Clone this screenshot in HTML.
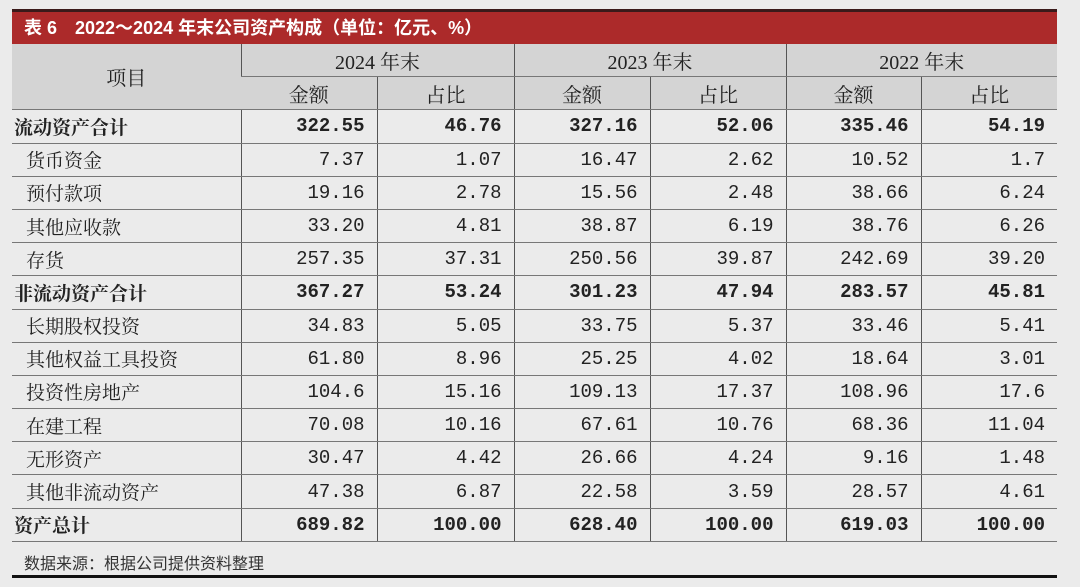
<!DOCTYPE html>
<html><head><meta charset="utf-8"><style>
body{margin:0;width:1080px;height:587px;background:#ebebeb;position:relative;overflow:hidden;font-family:"Liberation Serif","Noto Serif CJK SC",serif;color:#222}
.tb{position:absolute;left:12px;top:9px;width:1045px;height:3px;background:#3a1a1a}
.tt{position:absolute;left:12px;top:12px;width:1045px;height:32px;background:#ac2a2a;color:#fff;font-family:"Liberation Sans","Noto Sans CJK SC",sans-serif;font-size:18px;line-height:32px;text-indent:12px;font-weight:bold}
table{position:absolute;left:12px;top:44px;border-collapse:collapse;table-layout:fixed;width:1045px}
td{height:32.2px;padding:0;border-bottom:1.5px solid #777;font-size:19px;text-align:right;padding-right:12px;font-family:"Liberation Mono","Noto Serif CJK SC",monospace;white-space:nowrap}
td+td{border-left:1.5px solid #555}
td.l{text-align:left;font-family:"Noto Serif CJK SC",serif;padding-left:14px}
tr.b td{font-weight:600}
tr.b td.l{padding-left:2px;font-weight:bold}
.h td{background:#d4d4d4;text-align:center;padding:0;font-family:"Liberation Serif","Noto Serif CJK SC",serif;font-size:20px}
.src{position:absolute;left:24px;top:550px;font-size:16px;font-family:"Noto Sans CJK SC",sans-serif;color:#333}
.bl{position:absolute;left:12px;top:575px;width:1045px;height:3px;background:#111}
</style></head><body>
<div class="tb"></div>
<div class="tt">表 6　2022～2024 年末公司资产构成（单位：亿元、%）</div>
<table>
<colgroup><col style="width:229px"><col style="width:136px"><col style="width:137px"><col style="width:136px"><col style="width:136px"><col style="width:135px"><col style="width:136px"></colgroup>
<tr class="h"><td rowspan="2">项目</td><td colspan="2">2024 年末</td><td colspan="2">2023 年末</td><td colspan="2">2022 年末</td></tr>
<tr class="h"><td>金额</td><td>占比</td><td>金额</td><td>占比</td><td>金额</td><td>占比</td></tr>
<tr class="b"><td class="l">流动资产合计</td><td>322.55</td><td>46.76</td><td>327.16</td><td>52.06</td><td>335.46</td><td>54.19</td></tr>
<tr><td class="l">货币资金</td><td>7.37</td><td>1.07</td><td>16.47</td><td>2.62</td><td>10.52</td><td>1.7</td></tr>
<tr><td class="l">预付款项</td><td>19.16</td><td>2.78</td><td>15.56</td><td>2.48</td><td>38.66</td><td>6.24</td></tr>
<tr><td class="l">其他应收款</td><td>33.20</td><td>4.81</td><td>38.87</td><td>6.19</td><td>38.76</td><td>6.26</td></tr>
<tr><td class="l">存货</td><td>257.35</td><td>37.31</td><td>250.56</td><td>39.87</td><td>242.69</td><td>39.20</td></tr>
<tr class="b"><td class="l">非流动资产合计</td><td>367.27</td><td>53.24</td><td>301.23</td><td>47.94</td><td>283.57</td><td>45.81</td></tr>
<tr><td class="l">长期股权投资</td><td>34.83</td><td>5.05</td><td>33.75</td><td>5.37</td><td>33.46</td><td>5.41</td></tr>
<tr><td class="l">其他权益工具投资</td><td>61.80</td><td>8.96</td><td>25.25</td><td>4.02</td><td>18.64</td><td>3.01</td></tr>
<tr><td class="l">投资性房地产</td><td>104.6</td><td>15.16</td><td>109.13</td><td>17.37</td><td>108.96</td><td>17.6</td></tr>
<tr><td class="l">在建工程</td><td>70.08</td><td>10.16</td><td>67.61</td><td>10.76</td><td>68.36</td><td>11.04</td></tr>
<tr><td class="l">无形资产</td><td>30.47</td><td>4.42</td><td>26.66</td><td>4.24</td><td>9.16</td><td>1.48</td></tr>
<tr><td class="l">其他非流动资产</td><td>47.38</td><td>6.87</td><td>22.58</td><td>3.59</td><td>28.57</td><td>4.61</td></tr>
<tr class="b"><td class="l">资产总计</td><td>689.82</td><td>100.00</td><td>628.40</td><td>100.00</td><td>619.03</td><td>100.00</td></tr>
</table>
<div class="src">数据来源：根据公司提供资料整理</div>
<div class="bl"></div>
</body></html>
